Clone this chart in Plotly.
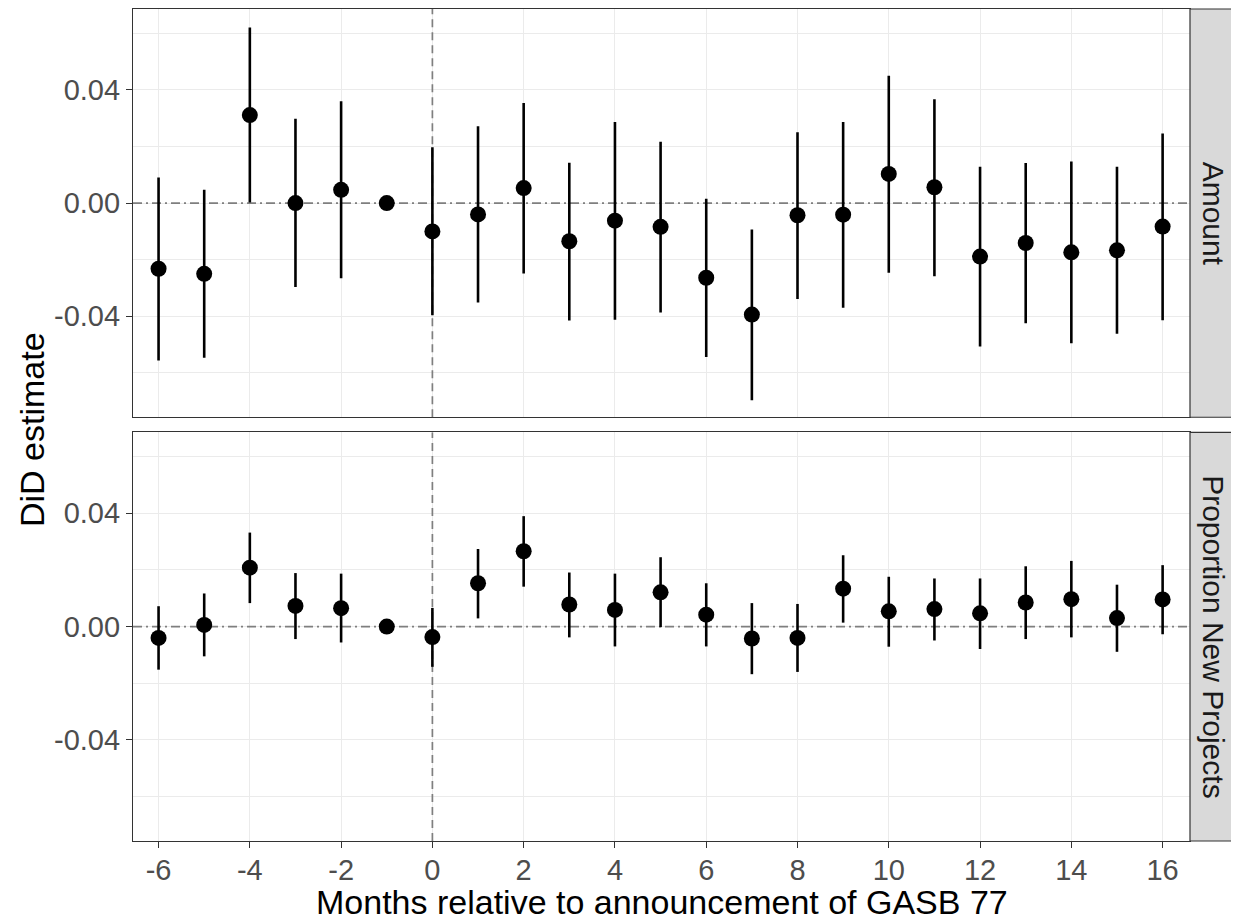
import plotly.graph_objects as go

months = list(range(-6, 17))

# Panel 1: Amount
amount_est = [-0.0232, -0.0250, 0.0311, 0.0000, 0.0047, 0.0000, -0.0100, -0.0040, 0.0053,
              -0.0135, -0.0062, -0.0084, -0.0264, -0.0394, -0.0043, -0.0041, 0.0103, 0.0056,
              -0.0189, -0.0141, -0.0174, -0.0167, -0.0083]
amount_hi = [0.0090, 0.0047, 0.0621, 0.0298, 0.0360, 0.0000, 0.0197, 0.0272, 0.0354,
             0.0143, 0.0287, 0.0217, 0.0015, -0.0093, 0.0250, 0.0287, 0.0450, 0.0367,
             0.0128, 0.0142, 0.0147, 0.0128, 0.0246]
amount_lo = [-0.0556, -0.0547, 0.0002, -0.0297, -0.0266, 0.0000, -0.0396, -0.0351, -0.0249,
             -0.0415, -0.0412, -0.0387, -0.0544, -0.0697, -0.0339, -0.0370, -0.0246, -0.0259,
             -0.0507, -0.0425, -0.0495, -0.0462, -0.0414]

# Panel 2: Proportion New Projects
prop_est = [-0.0040, 0.0006, 0.0208, 0.0073, 0.0065, 0.0000, -0.0037, 0.0153, 0.0266,
            0.0078, 0.0059, 0.0121, 0.0042, -0.0042, -0.0040, 0.0134, 0.0054, 0.0062,
            0.0047, 0.0085, 0.0097, 0.0030, 0.0096]
prop_hi = [0.0072, 0.0117, 0.0332, 0.0189, 0.0187, 0.0000, 0.0066, 0.0274, 0.0390,
           0.0191, 0.0187, 0.0245, 0.0153, 0.0083, 0.0080, 0.0252, 0.0176, 0.0170,
           0.0170, 0.0213, 0.0232, 0.0148, 0.0217]
prop_lo = [-0.0152, -0.0105, 0.0083, -0.0044, -0.0056, 0.0000, -0.0142, 0.0029, 0.0141,
           -0.0038, -0.0070, -0.0002, -0.0070, -0.0168, -0.0160, 0.0014, -0.0071, -0.0049,
           -0.0079, -0.0044, -0.0038, -0.0089, -0.0027]

panel_labels = ["Amount", "Proportion New Projects"]
x_tickvals = list(range(-6, 17, 2))
x_ticktext = [str(v) for v in x_tickvals]
y_tickvals = [-0.04, 0.0, 0.04]
y_ticktext = ["-0.04", "0.00", "0.04"]
y_minor = [-0.06, -0.02, 0.02, 0.06]
ref_x = 0      # vertical reference line (announcement month)
ref_y = 0      # horizontal reference line

FONT = "Liberation Sans, Arial, Helvetica, sans-serif"
TICK_FONT = 29
STRIP_FONT = 30
TITLE_FONT = 34
GRID = "#EBEBEB"
BORDER = "#333333"
REF = "#7F7F7F"

x_range = [-6.56, 16.6]
y_range = [-0.0757, 0.0686]

# page body has an 8px margin; figure sized so it fills the 1239x920 window
W, H = 1231, 912
ML, MR, MT, MB = 125, 49, 1, 79

top_dom = [0.5093, 1.0]
bot_dom = [0.0, 0.4912]

fig = go.Figure()

panels = [(amount_est, amount_hi, amount_lo, "x", "y"),
          (prop_est, prop_hi, prop_lo, "x2", "y2")]
for est, hi, lo, xa, ya in panels:
    # reference lines (drawn first so they sit beneath the points)
    fig.add_trace(go.Scatter(x=x_range, y=[ref_y, ref_y], mode="lines", xaxis=xa, yaxis=ya,
                             line=dict(color=REF, width=1.7, dash="9px,4px,2px,4px"),
                             showlegend=False, hoverinfo="skip"))
    fig.add_trace(go.Scatter(x=[ref_x, ref_x], y=y_range, mode="lines", xaxis=xa, yaxis=ya,
                             line=dict(color=REF, width=1.7, dash="8px,5px"),
                             showlegend=False, hoverinfo="skip"))
    fig.add_trace(go.Scatter(
        x=months, y=est, mode="markers", xaxis=xa, yaxis=ya,
        marker=dict(color="black", size=16),
        error_y=dict(type="data", symmetric=False,
                     array=[h - e for h, e in zip(hi, est)],
                     arrayminus=[e - l for e, l in zip(est, lo)],
                     width=0, thickness=2.6, color="black"),
        showlegend=False, hoverinfo="x+y"))

common_x = dict(range=x_range, tickvals=x_tickvals, ticktext=x_ticktext,
                showgrid=True, gridcolor=GRID, gridwidth=1.4, zeroline=False,
                showline=True, mirror=True, linecolor=BORDER, linewidth=1.2, automargin=False)
common_y = dict(range=y_range, tickvals=y_tickvals, ticktext=y_ticktext,
                showgrid=True, gridcolor=GRID, gridwidth=1.4, zeroline=False,
                showline=True, mirror=True, linecolor=BORDER, linewidth=1.2,
                ticks="outside", ticklen=6, tickwidth=1.2, tickcolor=BORDER, automargin=False,
                tickfont=dict(family=FONT, size=TICK_FONT, color="#4D4D4D"),
                minor=dict(tickvals=y_minor, showgrid=True, gridcolor=GRID, gridwidth=0.8, ticks=""))

fig.update_layout(
    width=W, height=H,
    paper_bgcolor="white", plot_bgcolor="white",
    margin=dict(l=ML, r=MR, t=MT, b=MB, autoexpand=False),
    xaxis=dict(common_x, anchor="y", domain=[0, 1], showticklabels=False, ticks=""),
    yaxis=dict(common_y, anchor="x", domain=top_dom),
    xaxis2=dict(common_x, anchor="y2", domain=[0, 1], matches="x",
                ticks="outside", ticklen=6, tickwidth=1.2, tickcolor=BORDER,
                ticklabelstandoff=-3,
                tickfont=dict(family=FONT, size=TICK_FONT, color="#4D4D4D")),
    yaxis2=dict(common_y, anchor="x2", domain=bot_dom),
    font=dict(family=FONT),
)

# Facet strips
plot_w = W - ML - MR
plot_h = H - MT - MB
strip_x1 = 1 + 47 / plot_w
for dom, label in zip([top_dom, bot_dom], panel_labels):
    fig.add_shape(type="rect", xref="paper", yref="paper", x0=1.0, x1=strip_x1,
                  y0=dom[0], y1=dom[1], fillcolor="#D9D9D9",
                  line=dict(color=BORDER, width=1.2), layer="above")
    fig.add_annotation(xref="paper", yref="paper", x=(1.0 + strip_x1) / 2, y=(dom[0] + dom[1]) / 2,
                       text=label, textangle=90, showarrow=False,
                       font=dict(family=FONT, size=STRIP_FONT, color="#1A1A1A"),
                       xanchor="center", yanchor="middle")

# Axis titles
fig.add_annotation(xref="paper", yref="paper", x=0.5, y=0, yshift=-40,
                   text="Months relative to announcement of GASB 77", showarrow=False,
                   font=dict(family=FONT, size=TITLE_FONT, color="black"),
                   xanchor="center", yanchor="top")
fig.add_annotation(xref="paper", yref="paper", x=0, xshift=-101, y=0.5 - 5 / plot_h,
                   text="DiD estimate", textangle=-90, showarrow=False,
                   font=dict(family=FONT, size=TITLE_FONT, color="black"),
                   xanchor="center", yanchor="middle")

fig.write_html("out.html")
